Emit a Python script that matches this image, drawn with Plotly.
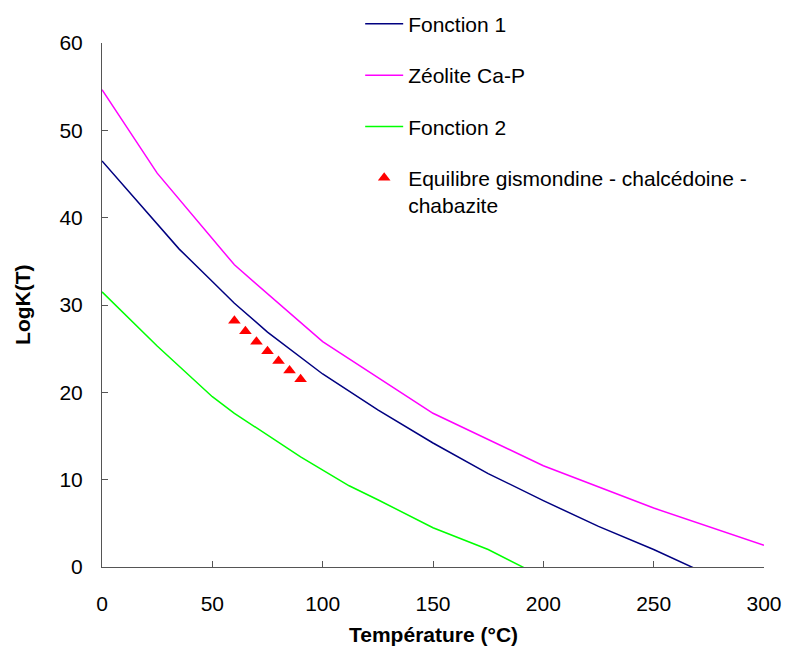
import plotly.graph_objects as go

# Fonction 1
f1_x = [0, 20, 35, 50, 60, 75, 90, 100, 125, 150, 175, 200, 225, 250, 275, 300]
f1_y = [46.5, 40.7, 36.4, 32.7, 30.2, 26.9, 24.0, 22.1, 18.0, 14.2, 10.7, 7.6, 4.65, 2.0, -0.9, -3.5]

# Zéolite Ca-P
zc_x = [0, 25, 60, 100, 150, 200, 250, 300]
zc_y = [54.65, 45.1, 34.6, 25.8, 17.6, 11.6, 6.75, 2.5]

# Fonction 2
f2_x = [0, 25, 50, 60, 90, 100, 112, 125, 150, 175, 200]
f2_y = [31.5, 25.3, 19.5, 17.6, 12.6, 11.1, 9.3, 7.7, 4.5, 2.0, -1.2]

# Equilibre gismondine - chalcédoine - chabazite
eq_x = [60, 65, 70, 75, 80, 85, 90]
eq_y = [28.2, 27.0, 25.8, 24.7, 23.6, 22.5, 21.5]

x_ticks = [0, 50, 100, 150, 200, 250, 300]
y_ticks = [0, 10, 20, 30, 40, 50, 60]

FONT = "Liberation Sans, Arial, sans-serif"
FS = 21

fig = go.Figure()
fig.add_trace(go.Scatter(x=f1_x, y=f1_y, mode="lines", name="Fonction 1",
                         legendgroup="a", line=dict(color="#000080", width=1.5)))
fig.add_trace(go.Scatter(x=zc_x, y=zc_y, mode="lines", name="Zéolite Ca-P",
                         legendgroup="b", line=dict(color="#FF00FF", width=1.5)))
fig.add_trace(go.Scatter(x=f2_x, y=f2_y, mode="lines", name="Fonction 2",
                         legendgroup="c", line=dict(color="#00FF00", width=1.5)))
fig.add_trace(go.Scatter(x=eq_x, y=eq_y, mode="markers",
                         name="Equilibre gismondine - chalcédoine -<br>chabazite",
                         legendgroup="d",
                         marker=dict(symbol="triangle-up", size=11, color="#FF0000")))

fig.update_layout(
    width=785, height=648,
    margin=dict(l=102, r=21, t=43, b=81, autoexpand=False),
    paper_bgcolor="white", plot_bgcolor="white",
    font=dict(family=FONT, size=FS, color="black"),
    showlegend=True,
    legend=dict(x=0.39, y=1.075, xanchor="left", yanchor="top",
                bgcolor="rgba(0,0,0,0)", tracegroupgap=21, valign="top",
                font=dict(family=FONT, size=FS), itemwidth=38),
    xaxis=dict(range=[0, 300], tickvals=x_ticks, ticks="inside", ticklen=6,
               tickcolor="#555", showline=True, linecolor="#555", linewidth=1,
               showgrid=False, zeroline=False, ticklabelstandoff=18,
               tickfont=dict(size=FS)),
    yaxis=dict(range=[0, 60], tickvals=y_ticks, ticks="inside", ticklen=6,
               tickcolor="#555", showline=True, linecolor="#555", linewidth=1,
               showgrid=False, zeroline=False, ticklabelstandoff=14,
               tickfont=dict(size=FS)),
    annotations=[
        dict(text="<b>Température (°C)</b>", xref="paper", yref="paper",
             x=0.5, y=-0.128, xanchor="center", yanchor="middle",
             showarrow=False, font=dict(family=FONT, size=21)),
        dict(text="<b>LogK(T)</b>", xref="paper", yref="paper",
             x=-0.121, y=0.5, xanchor="center", yanchor="middle",
             textangle=-90, showarrow=False, font=dict(family=FONT, size=21)),
    ],
)

fig.write_html("out.html")
